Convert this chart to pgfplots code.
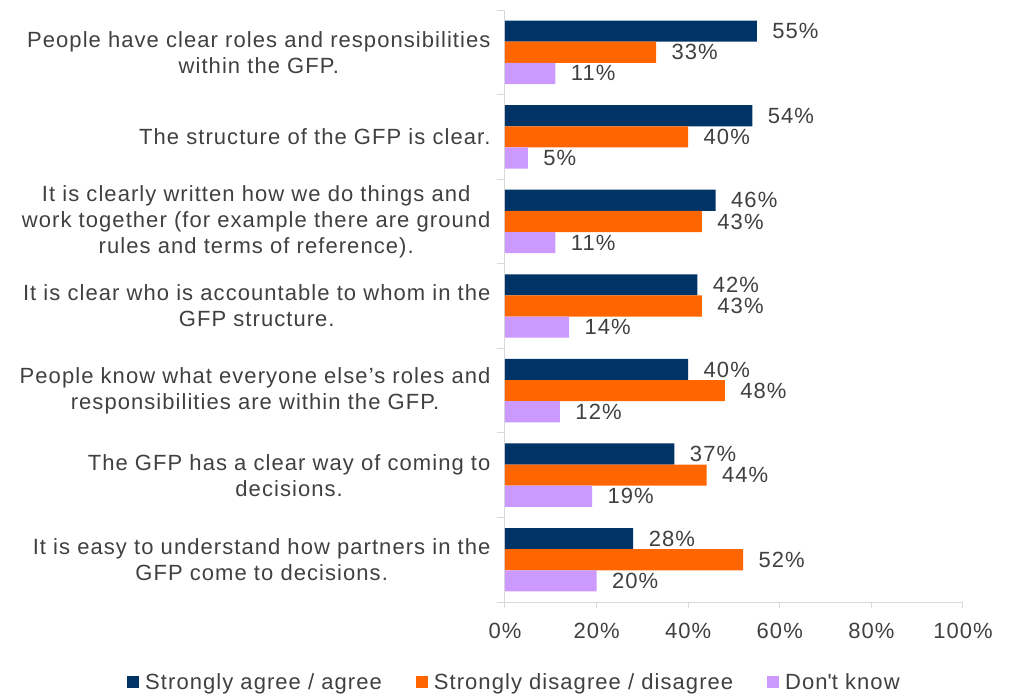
\documentclass[border=0pt]{standalone}
\usepackage{pgfplots}
\usepackage{pgfplotstable}
\pgfplotsset{compat=1.18}
\usepackage{fontspec}
\setmainfont{Liberation Sans}[LetterSpace=4.8]

\definecolor{cBlue}{HTML}{003366}
\definecolor{cOrange}{HTML}{FF6600}
\definecolor{cLav}{HTML}{CC99FF}
\definecolor{txt}{HTML}{404040}
\definecolor{axgray}{HTML}{D9D9D9}

% share of respondents (%), one row per statement, top to bottom
\pgfplotstableread{
y agree disagree dk
0 55 33 11
1 54 40 5
2 46 43 11
3 42 43 14
4 40 48 12
5 37 44 19
6 28 52 20
}\data

\begin{document}
\begin{tikzpicture}[font=\fontsize{22}{26}\selectfont]
\begin{axis}[
    name=ax,
    scale only axis,
    width=458pt, height=592pt,
    xmin=0, xmax=100,
    ymin=-0.5, ymax=6.5,
    y dir=reverse,
    axis x line*=bottom,
    axis y line*=left,
    axis line style={axgray, line width=1pt},
    tick align=outside,
    major tick length=6pt,
    minor tick length=8pt,
    tick style={axgray, line width=1pt},
    xtick={0,20,...,100},
    xticklabels={0\%,20\%,40\%,60\%,80\%,100\%},
    ytick={0,...,6},
    minor ytick={-0.5,0.5,...,6.5},
    major y tick style={draw=none},
    yticklabels={
      {People have clear roles and responsibilities\\within the GFP.},
      {The structure of the GFP is clear.},
      {It is clearly written how we do things and\\work together (for example there are ground\\rules and terms of reference).},
      {It is clear who is accountable to whom in the\\GFP structure.},
      {People know what everyone else’s roles and\\responsibilities are within the GFP.},
      {The GFP has a clear way of coming to\\decisions.},
      {It is easy to understand how partners in the\\GFP come to decisions.}
    },
    yticklabel style={align=center, text=txt, xshift=-5pt},
    xticklabel style={text=txt, yshift=-12pt},
    /pgf/number format/assume math mode=true,
    bar width=0.25,
    point meta=x,
    nodes near coords={\pgfmathprintnumber{\pgfplotspointmeta}\%},
    nodes near coords style={anchor=west, text=txt, xshift=12pt},
    legend columns=3,
    legend style={
      draw=none, fill=none, text=txt,
      at={(rel axis cs:0.0207,-0.135)}, anchor=center,
      /tikz/every even column/.append style={column sep=32pt},
      /tikz/every odd column/.append style={column sep=4pt},
    },
    legend image code/.code={\fill[#1, draw=none] (0pt,-6pt) rectangle (12pt,6pt);},
    clip=false,
]
\addplot[xbar, fill=cBlue, draw=none, bar shift=-0.25,
    nodes near coords style={yshift=21.14pt}] table[x=agree, y=y] {\data};
\addlegendentry{Strongly agree / agree}
\addplot[xbar, fill=cOrange, draw=none, bar shift=0] table[x=disagree, y=y] {\data};
\addlegendentry{Strongly disagree / disagree}
\addplot[xbar, fill=cLav, draw=none, bar shift=0.25,
    nodes near coords style={yshift=-21.14pt}] table[x=dk, y=y] {\data};
\addlegendentry{Don\textquotesingle t know}
\end{axis}
\path (ax.south west) ++(-505pt,-93pt) rectangle ([shift={(71pt,10pt)}]ax.north east);
\end{tikzpicture}
\end{document}
